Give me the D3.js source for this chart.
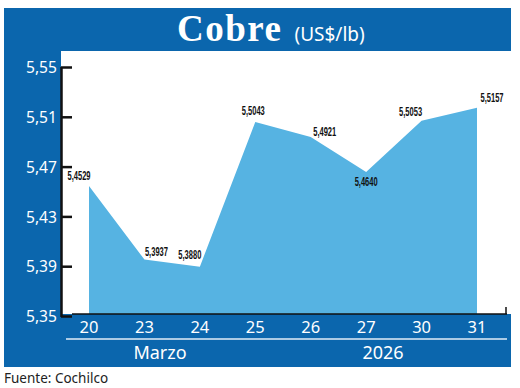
<!DOCTYPE html>
<html>
<head>
<meta charset="utf-8">
<script src="https://cdn.jsdelivr.net/npm/d3@7"></script>
<style>
  body { margin: 0; background: #fff; }
  svg { display: block; }
</style>
</head>
<body>
<div id="content"></div>
<script>
// datos: precio del cobre, marzo 2026
const days = ["20", "23", "24", "25", "26", "27", "30", "31"];
const prices = [5.4529, 5.3937, 5.3880, 5.5043, 5.4921, 5.4640, 5.5053, 5.5157];
const priceLabels = ["5,4529", "5,3937", "5,3880", "5,5043", "5,4921", "5,4640", "5,5053", "5,5157"];
const yTicks = [5.35, 5.39, 5.43, 5.47, 5.51, 5.55];
const yTickLabels = ["5,35", "5,39", "5,43", "5,47", "5,51", "5,55"];

// offsets of the value labels from each point (dx, dy)
const labelOffsets = [[-10, -10], [12, -8], [-10, -12], [-2, -11], [14, -6], [0, 9], [-11, -9], [15, -10]];

const width = 520;
const height = 388;
const darkBlue = "#0b66ad";
const lightBlue = "#56b3e2";

const svg = d3
  .select("#content")
  .append("svg")
  .attr("width", width)
  .attr("height", height);

// blue frame: title band, left column and bottom band
svg.append("rect").attr("x", 4).attr("y", 8).attr("width", 507).attr("height", 43).attr("fill", darkBlue);
svg.append("rect").attr("x", 4).attr("y", 50).attr("width", 57).attr("height", 317).attr("fill", darkBlue);
svg.append("rect").attr("x", 4).attr("y", 314).attr("width", 507).attr("height", 53).attr("fill", darkBlue);

const xScale = d3.scalePoint().domain(days).range([89, 477]);
const yScale = d3.scaleLinear().domain([5.35, 5.55]).range([316, 67]);

// area
const area = d3
  .area()
  .x((d, i) => xScale(days[i]))
  .y0(314)
  .y1(d => yScale(d) - 2);

svg.append("path").datum(prices).attr("d", area).attr("fill", lightBlue);

// y axis (ticks pointing inside)
const yAxis = d3
  .axisRight(yScale)
  .tickValues(yTicks)
  .tickSize(11)
  .tickFormat("");

const gy = svg.append("g").attr("transform", "translate(61,0)").call(yAxis);
gy.select(".domain").attr("stroke", "#111").attr("stroke-width", 2.5).attr("d", "M0.5," + yScale(5.55) + "V" + (yScale(5.35) + 1));
gy.selectAll(".tick line").attr("stroke", "#111").attr("stroke-width", 2.5);

// y tick labels
svg
  .selectAll(".ylab")
  .data(yTicks)
  .enter()
  .append("text")
  .attr("class", "ylab")
  .attr("x", 57)
  .attr("y", d => yScale(d))
  .attr("dy", "0.36em")
  .attr("text-anchor", "end")
  .attr("font-family", "'Noto Sans', sans-serif")
  .attr("font-size", "17px")
  .attr("textLength", 31)
  .attr("lengthAdjust", "spacingAndGlyphs")
  .attr("fill", "#fff")
  .text((d, i) => yTickLabels[i]);

// x axis line
svg.append("line")
  .attr("x1", 72).attr("x2", 507)
  .attr("y1", 314).attr("y2", 314)
  .attr("stroke", "#111").attr("stroke-width", 1.5);
svg.append("line")
  .attr("x1", 506).attr("x2", 506)
  .attr("y1", 307).attr("y2", 314)
  .attr("stroke", "#111").attr("stroke-width", 1.5);

// x tick labels
svg
  .selectAll(".xlab")
  .data(days)
  .enter()
  .append("text")
  .attr("class", "xlab")
  .attr("x", d => xScale(d))
  .attr("y", 333)
  .attr("text-anchor", "middle")
  .attr("font-family", "'Noto Sans', sans-serif")
  .attr("font-size", "16.5px")
  .attr("fill", "#fff")
  .text(d => d);

// separator line and group labels
svg.append("line")
  .attr("x1", 66).attr("x2", 507)
  .attr("y1", 339).attr("y2", 339)
  .attr("stroke", "#e3eef8").attr("stroke-width", 1.5);

svg.append("text")
  .attr("x", 160).attr("y", 359)
  .attr("text-anchor", "middle")
  .attr("font-family", "'Noto Sans', sans-serif")
  .attr("font-size", "18px")
  .attr("fill", "#fff")
  .text("Marzo");

svg.append("text")
  .attr("x", 383).attr("y", 359)
  .attr("text-anchor", "middle")
  .attr("font-family", "'Noto Sans', sans-serif")
  .attr("font-size", "18px")
  .attr("fill", "#fff")
  .text("2026");

// value labels
svg
  .selectAll(".val")
  .data(prices)
  .enter()
  .append("text")
  .attr("class", "val")
  .attr("x", (d, i) => xScale(days[i]) + labelOffsets[i][0])
  .attr("y", (d, i) => yScale(d) - 2 + labelOffsets[i][1])
  .attr("dy", "0.36em")
  .attr("text-anchor", "middle")
  .attr("font-family", "'Liberation Sans Narrow', sans-serif")
  .attr("font-weight", "bold")
  .attr("font-size", "12.5px")
  .attr("textLength", 23)
  .attr("lengthAdjust", "spacingAndGlyphs")
  .attr("fill", "#111")
  .text((d, i) => priceLabels[i]);

// title
const title = svg.append("text")
  .attr("x", 177).attr("y", 41)
  .attr("fill", "#fff");
title.append("tspan")
  .attr("font-family", "'Liberation Serif', serif")
  .attr("font-weight", "bold")
  .attr("font-size", "37px")
  .attr("letter-spacing", "1.5px")
  .text("Cobre");
title.append("tspan")
  .attr("dx", 12)
  .attr("font-family", "'Noto Sans', sans-serif")
  .attr("font-size", "19px")
  .text("(US$/lb)");

// source
svg.append("text")
  .attr("x", 4).attr("y", 383)
  .attr("font-family", "'Noto Sans', sans-serif")
  .attr("font-size", "13.5px")
  .attr("fill", "#222")
  .text("Fuente: Cochilco");
</script>
</body>
</html>
